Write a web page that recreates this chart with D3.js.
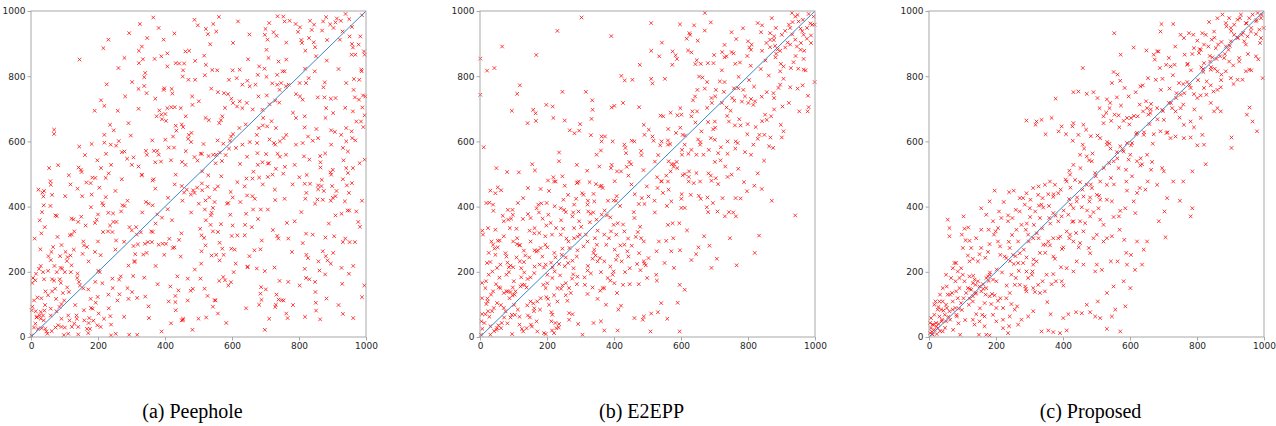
<!DOCTYPE html>
<html>
<head>
<meta charset="utf-8">
<script src="https://cdn.jsdelivr.net/npm/d3@7"></script>
<style>
  body { margin: 0; background: #fff; }
  svg { display: block; }
</style>
</head>
<body>
<div id="chart-container"></div>
<script>
// values (true vs. predicted, 0..1000)

const peephole = [
[365,980],[325,960],[293,932],[231,912],[216,886],[145,851],[279,856],[261,825],[226,775],[209,726],[190,694],[219,709],
[236,651],[247,634],[259,694],[281,738],[302,782],[321,761],[338,770],[345,748],[338,797],[341,810],[322,840],[322,878],
[334,852],[347,917],[331,891],[369,853],[396,912],[407,870],[407,830],[389,861],[432,840],[442,839],[454,818],[457,839],
[461,876],[488,973],[498,956],[522,945],[528,929],[544,960],[553,937],[535,898],[517,863],[522,835],[541,819],[556,818],
[490,847],[470,789],[490,789],[453,799],[481,738],[482,712],[501,723],[521,672],[531,665],[562,656],[567,665],[571,677],
[558,751],[576,748],[591,789],[588,745],[598,731],[603,718],[614,794],[623,820],[631,774],[646,786],[653,769],[679,738],
[704,741],[681,830],[697,823],[677,804],[670,774],[720,778],[709,856],[703,881],[706,912],[698,927],[700,945],[724,935],
[733,924],[711,963],[736,984],[753,983],[757,968],[772,970],[790,960],[803,950],[797,936],[807,911],[809,902],[819,878],
[833,970],[845,958],[830,917],[844,904],[848,889],[851,861],[872,968],[869,940],[881,981],[893,959],[884,911],[903,948],
[909,965],[913,977],[925,970],[930,937],[939,991],[950,975],[951,922],[958,899],[957,866],[968,866],[961,888],[978,897],
[983,922],[994,876],[996,866],[987,815],[980,789],[964,791],[941,779],[967,735],[979,728],[961,692],[989,704],[996,680],
[971,661],[957,631],[959,610],[941,600],[931,580],[946,569],[981,533],[996,544],[961,518],[946,503],[896,590],[907,629],
[902,687],[881,702],[895,731],[909,733],[876,735],[873,766],[856,735],[847,815],[829,794],[821,779],[811,728],[803,738],
[791,745],[769,774],[761,769],[747,779],[742,758],[751,815],[757,815],[739,845],[735,804],[735,774],[729,725],[712,714],
[693,672],[680,641],[692,649],[705,646],[731,641],[762,620],[754,610],[743,600],[729,590],[725,595],[712,606],[707,532],
[691,536],[676,564],[675,595],[674,620],[691,697],[623,723],[615,707],[631,702],[644,718],[603,622],[597,615],[594,602],
[574,593],[564,566],[553,559],[570,540],[544,559],[515,592],[510,562],[530,555],[479,626],[469,608],[471,620],[462,570],
[451,537],[488,552],[497,541],[506,562],[450,652],[432,648],[434,633],[454,644],[462,677],[447,702],[419,705],[429,705],
[407,702],[401,684],[389,682],[391,668],[403,663],[375,677],[383,695],[396,758],[398,763],[420,761],[422,747],[371,731],
[321,700],[291,656],[279,569],[287,547],[301,528],[306,551],[321,523],[331,498],[346,559],[343,571],[367,571],[377,571],
[381,559],[371,536],[388,538],[401,605],[411,581],[424,615],[427,581],[461,528],[511,508],[551,533],[624,531],[664,507],
[710,533],[736,562],[787,528],[815,554],[864,536],[864,520],[901,513],[941,518],[69,636],[69,623],[54,518],[81,527],
[144,584],[181,592],[224,562],[219,620],[219,596],[238,590],[254,587],[271,567],[142,520],[149,513],[151,506],[209,518],
[239,528],[791,672],[817,677],[841,602],[817,643],[791,590],[811,595],[827,615],[857,610],[879,672],[896,634],[926,620],
[941,641],[985,661],[991,741],[986,820],[831,544],[863,555],[894,505],[761,559],[743,553],[731,516],[677,528],[645,553],
[631,590],[612,580],[591,578],[581,558],
[113,496],[183,489],[192,488],[223,488],[271,484],[331,496],[366,484],[432,498],[529,496],[568,493],[616,475],[643,486],
[661,486],[681,489],[707,491],[721,498],[753,501],[801,490],[817,470],[833,470],[857,465],[867,463],[896,498],[899,463],
[931,484],[949,442],[909,432],[901,427],[874,448],[848,409],[855,422],[871,421],[895,418],[937,416],[945,388],[927,378],
[909,373],[889,348],[841,314],[787,355],[764,350],[807,383],[819,424],[757,424],[729,420],[707,391],[686,391],[663,391],
[645,434],[661,432],[668,424],[625,414],[639,344],[659,337],[595,375],[585,409],[589,411],[548,414],[543,396],[519,391],
[539,381],[537,373],[501,409],[521,419],[527,461],[549,453],[511,450],[484,450],[477,437],[496,458],[510,471],[457,443],
[465,452],[450,463],[429,468],[409,427],[371,455],[363,480],[343,414],[351,409],[363,404],[421,358],[377,376],[391,366],
[359,324],[363,322],[349,291],[340,286],[319,284],[306,279],[311,254],[309,233],[316,314],[294,337],[314,337],[301,327],
[273,404],[279,402],[269,385],[245,379],[231,381],[255,353],[246,353],[230,324],[254,296],[243,322],[223,429],[213,411],
[216,404],[204,458],[181,437],[153,432],[139,455],[165,474],[179,398],[200,376],[196,360],[191,350],[163,342],[141,353],
[150,369],[127,361],[121,363],[73,373],[77,371],[58,478],[59,467],[39,448],[34,443],[37,431],[63,436],[38,404],[33,383],
[26,358],[41,337],[129,324],[122,314],[116,312],[156,293],[158,281],[167,276],[154,255],[191,261],[200,293],[215,322],
[236,342],[79,307],[66,276],[61,261],[28,269],[87,248],[103,261],[109,245],[118,250],[121,220],[107,233],[59,236],
[70,218],[88,212],[93,210],[101,199],[119,199],[77,199],[51,203],[24,209],[29,218],[36,199],[15,194],[6,181],[4,166],
[13,174],[39,177],[63,177],[69,173],[86,177],[89,166],[139,194],[138,181],[143,169],[146,158],[156,149],[171,146],
[192,169],[201,203],[205,199],[213,165],[243,179],[231,130],[244,150],[263,176],[268,186],[288,150],[264,131],[291,117],
[317,120],[341,124],[351,94],[305,187],[291,219],[309,230],[237,64],[239,38],[218,56],[198,36],[199,123],[178,117],
[179,89],[184,87],[174,58],[172,43],[159,51],[167,25],[176,25],[171,12],[186,50],[208,31],[193,105],[136,66],[137,56],
[141,31],[129,41],[115,51],[111,66],[122,31],[101,29],[91,31],[91,56],[76,79],[85,92],[91,101],[99,112],[113,138],
[95,135],[75,117],[63,140],[51,128],[43,140],[31,119],[19,121],[9,112],[4,93],[2,82],[14,79],[29,77],[40,81],[59,87],
[59,66],[26,66],[16,60],[36,66],[29,56],[38,51],[13,41],[9,29],[21,25],[32,27],[43,25],[46,17],[49,10],[73,29],[81,36],
[1,5],[111,10],[141,8],[253,10],[239,5],[293,7],[317,7],[390,17],[450,51],[454,56],[523,60],[500,56],[583,43],[579,174],
[589,158],[597,168],[574,184],[605,199],[611,225],[646,214],[674,210],[727,213],[768,169],[687,153],[701,146],[685,133],
[681,99],[688,114],[733,130],[739,115],[748,113],[754,112],[731,99],[729,92],[762,72],[766,58],[711,56],[821,181],
[831,177],[848,169],[849,138],[850,105],[851,81],[863,54],[929,163],[931,71],[949,194],[927,212],[885,235],[880,248],
[871,263],[895,225],[827,242],[861,204],[967,291],[995,158],[905,309],[879,305],[931,291],[811,288],[779,261],[735,310],
[689,296],[685,269],[667,266],[647,216],[563,289],[571,271],[553,252],[539,250],[575,252],[563,235],[509,263],[508,225],
[489,207],[506,179],[468,179],[437,186],[416,155],[431,126],[431,107],[411,109],[440,143],[453,52],[483,148],[477,142],
[527,126],[548,113],[551,112],[543,93],[521,281],[517,304],[505,332],[509,312],[536,344],[543,324],[567,346],[449,318],
[423,273],[428,275],[447,247],[393,286],[403,286],[413,301],[381,283],[361,291],[335,253],[345,258],[599,310],[616,312],
[638,312],[598,271],[596,445],[738,302],[817,209],[821,317],[857,453],[950,388],[943,465],[951,291],[971,385],[977,353],
[557,603],[622,641],[653,598],[702,561],[758,522],[823,497],[878,563],[933,542],[968,603],[992,644],[852,638],[782,688],
[718,662],[641,652],[579,703],[538,762],[602,818],[648,852],[703,798],[762,851],[818,823],[883,848],[918,822],[963,758],
[998,738],[938,703],[877,781],[802,779],[741,719],[662,698],[519,803],[472,878],[428,931],[381,948],[603,902],[652,928],
[561,982],[618,968],[762,903],[838,942],[958,951],[988,987],[922,912],[478,598],[418,542],[362,603],[298,618],[262,601],
[198,542],[161,558],[118,468],[102,432],[58,402],[22,452],[11,302],[31,318],[52,248],[91,282],[128,268],[172,232],
[208,251],[252,268],[278,292],[328,321],[372,348],[408,392],[452,418],[488,442],[532,428],[558,462],[602,428],[638,462],
[692,468],[728,452],[781,468],[822,442],[868,482],[912,448],[958,472],[988,418],[982,338],[938,302],[902,258],[858,232],
[822,252],[768,302],[722,328],[678,362],[642,378],[602,342],[558,322],[522,358],[478,382],[442,298],[398,252],[372,218],
[338,182],[302,138],[258,112],[232,88],[202,72],[158,82],[132,98],[108,152],[72,148],[42,98],[18,62],[62,18],[98,6],
[278,62],[352,58],[418,42],[482,22],[558,72],[642,88],[698,22],[782,98],[818,62],[882,118],[918,98],[962,58],[988,122],
[962,218],[878,192],[802,158],[742,172],[698,202],[652,248],[608,268],[562,172],[518,148],[468,112],[432,82],[378,162],
[332,382],[288,418],[252,448],[178,472],[232,502]
];

const e2epp = [
[303,980],[231,939],[66,891],[1,854],[168,865],[21,817],[43,825],[1,743],[119,772],[111,746],[95,694],[159,697],
[166,686],[142,656],[167,663],[198,712],[217,707],[246,752],[219,672],[253,664],[316,752],[335,726],[336,697],[333,669],
[299,653],[268,634],[282,625],[296,633],[331,619],[363,615],[373,615],[363,600],[401,709],[393,704],[392,923],[422,801],
[432,787],[455,789],[427,718],[475,705],[477,835],[511,963],[511,878],[511,792],[515,778],[535,861],[552,792],[543,903],
[575,876],[584,864],[588,853],[574,835],[597,959],[639,956],[671,994],[671,940],[625,932],[617,915],[650,909],[627,927],
[621,879],[631,873],[647,849],[659,838],[643,837],[680,840],[689,965],[751,935],[785,947],[765,914],[730,896],[723,874],
[736,861],[730,858],[751,874],[757,870],[699,865],[697,840],[776,842],[800,907],[804,888],[811,897],[809,881],[829,963],
[842,956],[839,935],[866,932],[855,902],[866,912],[877,911],[883,948],[871,978],[901,927],[911,939],[881,893],[866,889],
[884,869],[896,878],[911,888],[926,897],[926,948],[933,966],[931,994],[941,983],[951,968],[957,946],[966,927],[976,915],
[988,925],[996,983],[981,991],[999,958],[964,973],[976,948],[941,912],[946,891],[957,881],[966,853],[936,843],[928,825],
[950,823],[966,820],[906,830],[896,815],[906,792],[896,774],[926,766],[963,772],[979,740],[999,782],[981,705],[953,692],
[903,707],[876,748],[878,733],[891,764],[856,751],[841,737],[821,723],[816,712],[801,718],[809,730],[791,738],[786,758],
[771,763],[753,733],[759,725],[736,704],[748,694],[730,782],[716,784],[704,758],[702,738],[691,733],[671,762],[664,796],
[654,799],[649,758],[636,726],[634,692],[631,677],[601,682],[589,680],[569,688],[539,679],[547,677],[585,626],[605,620],
[611,590],[603,574],[603,559],[561,590],[542,600],[538,588],[515,615],[504,636],[491,620],[489,651],[481,571],[461,600],
[453,602],[434,580],[431,590],[436,564],[451,530],[446,537],[443,495],[409,508],[421,508],[393,528],[391,518],[396,600],
[361,572],[348,559],[356,523],[320,510],[291,474],[289,528],[246,493],[226,477],[219,490],[203,480],[236,539],[236,566],
[156,530],[164,511],[116,505],[81,506],[49,518],[53,459],[31,449],[46,441],[63,450],[39,406],[40,387],[28,412],[19,411],
[11,582],[7,326],[9,314],[24,334],[46,329],[34,293],[53,295],[59,296],[43,271],[53,275],[71,309],[68,372],[84,360],
[93,363],[98,375],[109,332],[111,303],[111,285],[128,362],[143,377],[151,365],[169,395],[174,406],[176,382],[183,410],
[181,454],[199,411],[206,448],[221,477],[253,464],[241,395],[251,390],[281,406],[289,472],[295,477],[305,441],[309,436],
[327,475],[346,469],[363,464],[366,457],[339,439],[323,385],[330,378],[348,360],[363,375],[379,373],[389,367],[399,419],
[406,418],[411,349],[427,345],[431,324],[459,383],[461,365],[474,408],[491,408],[483,426],[503,431],[530,457],[521,418],
[546,442],[563,452],[571,416],[601,396],[611,396],[601,424],[629,436],[653,433],[679,428],[695,411],[724,426],[743,383],
[756,382],[731,370],[764,370],[709,385],[681,383],[677,398],[659,424],[624,508],[646,503],[611,500],[589,518],[569,508],
[556,495],[587,537],[579,530],[529,490],[541,477],[561,477],[572,530],[563,539],[605,496],[623,491],[623,477],[657,477],
[691,479],[711,469],[689,495],[704,487],[732,523],[751,498],[739,491],[771,516],[788,475],[829,502],[819,464],[841,454],
[871,418],[797,447],[778,425],[763,426],[701,537],[711,564],[683,574],[667,559],[646,559],[657,590],[689,610],[701,605],
[719,582],[739,562],[763,600],[769,595],[791,567],[809,559],[816,590],[829,608],[834,620],[849,620],[867,612],[863,585],
[848,541],[875,580],[901,612],[906,631],[898,651],[869,677],[856,666],[851,682],[823,644],[799,653],[778,649],[774,668],
[761,649],[743,661],[739,600],[701,661],[696,637],[681,659],[661,631],[651,606],[631,574],[978,692],[941,373],[820,258],
[833,311],[766,220],[746,303],[707,240],[691,212],[685,280],[669,309],[652,275],[645,254],[631,236],[597,266],[618,327],
[577,303],[595,349],[575,349],[561,344],[556,295],[534,293],[527,263],[503,242],[491,225],[495,220],[475,257],[489,293],
[481,303],[471,322],[465,307],[453,280],[431,283],[419,281],[407,314],[399,344],[391,324],[385,303],[377,283],[371,314],
[351,326],[343,303],[349,283],[341,268],[345,250],[339,258],[336,240],[321,293],[316,314],[309,278],[298,314],[281,303],
[281,334],[289,247],[276,234],[279,211],[256,244],[246,271],[244,252],[225,244],[217,213],[201,275],[195,283],[181,273],
[186,247],[173,265],[191,213],[216,181],[201,165],[196,150],[189,160],[181,119],[203,117],[206,99],[213,76],[213,48],
[225,43],[236,40],[228,27],[215,20],[235,29],[171,109],[159,103],[151,109],[141,97],[143,66],[149,60],[169,48],[155,32],
[171,17],[139,27],[125,25],[129,17],[118,38],[104,68],[113,84],[91,60],[95,68],[76,79],[72,60],[65,43],[55,36],[63,27],
[51,27],[31,33],[13,43],[7,25],[3,7],[31,7],[49,22],[96,9],[191,12],[196,9],[221,12],[16,70],[6,70],[24,79],[36,79],
[41,89],[71,89],[51,104],[23,109],[19,101],[6,119],[6,166],[16,150],[33,130],[39,140],[56,152],[61,150],[71,135],[79,140],
[84,140],[91,138],[106,140],[103,130],[88,119],[97,128],[121,155],[126,160],[133,160],[139,152],[123,183],[101,171],
[86,199],[79,191],[86,214],[91,219],[99,214],[119,232],[123,211],[147,244],[135,250],[151,183],[162,196],[163,216],
[131,230],[109,244],[31,230],[21,227],[61,222],[26,191],[37,201],[18,171],[51,212],[4,48],[246,158],[266,150],[256,128],
[271,135],[261,111],[266,73],[276,70],[266,53],[293,40],[306,7],[339,43],[321,132],[336,152],[359,142],[366,150],
[381,181],[389,173],[396,191],[401,165],[409,135],[421,96],[413,84],[411,20],[371,20],[361,48],[376,99],[351,117],
[371,150],[399,201],[427,160],[447,162],[474,162],[479,205],[489,232],[461,58],[486,53],[489,63],[511,72],[531,76],
[559,56],[509,17],[596,17],[590,105],[596,160],[611,145],[541,104],[526,191],[528,173],[551,227],[571,263],[579,212],
[499,181],[469,224],[447,211],[433,199],[423,232],[440,263],[443,247],[411,250],[406,237],[389,216],[371,232],[361,199],
[351,232],[331,195],[321,204],[312,183],[291,185],[313,160],[289,162],[275,179],[256,165],[239,189],[223,201],[236,224],
[263,227],[253,217],[267,273],[291,266],[264,293],[241,314],[215,314],[195,309],[177,319],[163,334],[148,326],[211,350],
[227,334],[204,375],[187,363],[223,401],[256,383],[276,370],[296,355],[321,406],[341,416],[294,385],[249,421],[263,436],
[287,424],[129,426],[143,457],[113,411],[97,390],[83,390],[71,355],[89,334],[99,293],[119,281],[131,265],[151,293],
[163,266],[196,222],[201,191],[221,128],[231,150],[231,109],[216,68],[179,84],[161,79],[46,252],[76,257],[79,247],[39,283],
[522,538],[561,603],[598,642],[643,658],[678,703],[722,718],[758,763],[803,788],[838,822],[882,858],[918,903],[962,938],
[986,962],[968,878],[942,862],[898,838],[862,802],[818,768],[782,722],[738,678],[702,642],[658,598],[622,562],[578,522],
[542,478],[498,462],[462,438],[418,402],[382,418],[338,382],[302,338],[258,302],[222,258],[178,222],[142,178],[98,152],
[62,98],[28,62],[22,118],[48,162],[82,228],[118,282],[162,318],[198,342],[242,358],[278,382],[322,418],[358,462],
[402,478],[438,522],[482,558],[518,602],[562,638],[598,702],[642,738],[678,782],[722,818],[762,838],[798,862],[842,878],
[878,922],[922,958],[948,988],[988,902],[972,818],[948,762],[922,718],[878,698],[842,662],[798,622],[762,578],[718,542],
[682,502],[638,472],[602,438],[558,402],[522,382],[478,338],[442,302],[402,268],[358,242],[322,218],[278,192],[242,148],
[198,122],[162,88],[118,62],[82,42],[42,18],[132,198],[168,262],[212,228],[248,332],[292,308],[328,352],[372,388],
[408,432],[452,468],[488,512],[532,558],[568,592],[612,618],[648,692],[692,718],[728,752],[772,798],[808,832],[852,848],
[888,882],[932,928],[958,902],[992,958],[152,38],[102,98],[58,182],[26,258]
];

const proposed = [
[981,994],[991,978],[976,968],[966,989],[956,978],[946,963],[931,989],[921,973],[911,958],[901,948],[896,978],[886,963],
[876,989],[861,978],[851,937],[836,966],[826,927],[816,932],[801,909],[789,927],[776,932],[761,917],[751,927],[729,960],
[694,960],[691,937],[681,876],[671,866],[674,851],[685,876],[649,879],[611,888],[572,866],[553,932],[551,813],[563,805],
[546,779],[571,786],[584,764],[596,738],[617,751],[631,769],[638,772],[654,794],[677,789],[697,792],[716,856],[689,825],
[708,835],[721,830],[733,835],[735,891],[763,866],[771,835],[786,868],[791,886],[806,871],[811,881],[821,897],[834,891],
[844,912],[856,886],[863,897],[873,905],[886,891],[894,881],[901,907],[911,927],[921,917],[933,927],[941,907],[951,922],
[961,937],[976,929],[986,943],[991,917],[999,948],[976,861],[946,897],[926,856],[926,845],[896,845],[881,856],[869,861],
[846,858],[839,845],[821,840],[813,827],[819,813],[841,820],[853,823],[861,815],[873,805],[886,815],[901,794],[909,776],
[921,789],[936,789],[946,815],[956,820],[996,794],[957,704],[966,661],[979,631],[949,682],[903,612],[903,580],[871,692],
[851,692],[861,702],[841,718],[849,753],[861,758],[871,766],[841,772],[829,784],[821,764],[811,741],[801,733],[791,745],
[781,764],[771,782],[759,776],[746,779],[739,748],[751,743],[759,713],[751,702],[736,692],[726,702],[716,718],[696,697],
[681,702],[663,715],[651,702],[639,692],[655,682],[661,687],[629,713],[623,677],[603,672],[591,672],[581,663],[566,680],
[554,682],[539,702],[529,688],[521,677],[509,702],[503,733],[531,729],[541,718],[561,735],[573,710],[521,656],[544,663],
[491,751],[471,746],[446,753],[431,751],[459,825],[378,731],[366,672],[336,666],[321,661],[291,664],[318,651],[348,622],
[387,631],[428,646],[431,656],[461,651],[469,636],[446,620],[429,602],[409,622],[396,646],[459,590],[483,616],[503,618],
[511,610],[531,590],[539,593],[571,585],[591,595],[606,595],[621,626],[641,620],[671,622],[691,631],[709,626],[701,666],
[721,610],[736,615],[761,610],[781,612],[801,588],[821,590],[816,620],[791,643],[781,661],[761,651],[811,672],[826,530],
[786,508],[759,477],[729,477],[701,508],[696,518],[681,467],[653,477],[646,452],[629,457],[621,442],[591,449],[589,477],
[606,493],[631,526],[651,559],[666,537],[663,513],[636,530],[621,539],[596,544],[601,559],[581,569],[561,567],[551,539],
[566,518],[543,488],[531,467],[511,477],[496,503],[486,539],[471,554],[463,578],[451,559],[431,528],[419,510],[411,477],
[421,498],[436,482],[451,475],[471,467],[486,457],[501,436],[481,428],[461,431],[441,416],[423,406],[431,395],[456,398],
[479,416],[511,421],[531,421],[546,416],[506,395],[491,383],[481,370],[511,360],[521,344],[551,368],[571,387],[611,416],
[616,380],[586,395],[567,370],[569,329],[546,309],[531,303],[521,293],[501,314],[491,303],[481,257],[477,273],[447,275],
[431,293],[419,303],[411,324],[401,275],[397,270],[421,314],[439,319],[451,288],[461,324],[466,349],[451,355],[431,355],
[416,375],[396,370],[386,355],[371,380],[359,365],[341,397],[336,406],[317,385],[301,395],[286,406],[281,426],[291,441],
[311,457],[327,462],[346,467],[361,477],[376,467],[386,441],[393,452],[356,438],[371,430],[339,426],[326,436],[303,421],
[271,426],[253,449],[239,444],[223,414],[209,385],[196,449],[181,416],[156,395],[171,375],[191,355],[199,324],[206,334],
[194,314],[216,365],[236,373],[236,355],[249,365],[259,390],[271,385],[276,344],[261,329],[289,329],[296,314],[313,344],
[331,365],[311,303],[327,303],[341,283],[356,293],[371,303],[386,303],[371,247],[376,240],[361,281],[347,258],[331,258],
[321,232],[311,222],[309,201],[307,191],[296,181],[287,155],[289,147],[271,160],[259,181],[256,160],[246,191],[253,224],
[266,227],[281,227],[291,201],[291,244],[271,257],[266,293],[251,252],[241,273],[231,242],[226,247],[213,252],[206,293],
[181,285],[176,261],[156,273],[151,254],[146,232],[131,240],[121,232],[116,250],[101,273],[109,297],[121,295],[126,273],
[141,303],[156,329],[178,329],[98,314],[106,332],[117,336],[103,370],[61,334],[56,360],[61,309],[76,227],[81,227],
[71,211],[86,201],[96,211],[101,191],[91,181],[79,171],[66,181],[51,191],[53,155],[41,150],[33,130],[19,109],[16,99],
[26,84],[36,84],[43,81],[53,89],[61,79],[71,84],[79,89],[89,87],[83,63],[63,53],[51,48],[39,53],[31,63],[16,68],[6,58],
[3,43],[11,38],[21,43],[29,40],[6,27],[16,22],[26,27],[3,12],[11,7],[41,17],[93,7],[96,104],[103,119],[111,135],[116,150],
[126,145],[131,165],[136,176],[139,160],[146,171],[151,155],[161,162],[171,181],[176,186],[181,191],[191,176],[201,171],
[121,186],[106,171],[91,150],[81,140],[69,135],[56,130],[131,125],[141,135],[156,140],[171,150],[169,130],[181,125],
[196,128],[213,119],[206,111],[186,101],[166,104],[159,68],[166,63],[151,48],[141,70],[131,53],[136,38],[166,33],[149,7],
[171,7],[181,5],[236,12],[263,94],[291,140],[316,138],[353,107],[363,70],[401,58],[336,17],[356,20],[371,15],[391,12],
[411,20],[531,25],[571,17],[586,94],[556,84],[546,63],[511,58],[496,63],[481,76],[456,73],[439,76],[416,70],[471,99],
[504,109],[531,135],[551,155],[581,171],[601,150],[615,206],[589,258],[583,298],[603,252],[621,293],[641,268],[651,293],
[686,355],[706,306],[703,385],[711,426],[749,418],[781,370],[786,395],[636,222],[591,222],[563,232],[543,232],[501,222],
[516,206],[496,201],[461,222],[441,232],[431,201],[411,211],[394,214],[396,171],[401,158],[371,193],[379,171],[351,191],
[339,171],[326,160],[311,150],[331,135],[346,140],[366,162],[241,135],[231,119],[246,101],[221,89],[201,89],[191,68],
[201,48],[221,53],[241,63],[256,84],[276,53],[296,63],[311,79],[266,38],[239,33],[221,27],[31,109],[41,109],[51,99],
[71,109],[86,119],[119,99],[131,109],[63,130],
[22,33],[38,48],[58,62],[33,18],[48,28],[82,68],[98,83],[122,118],[138,133],[162,148],[178,172],[202,207],[218,198],
[242,233],[258,248],[283,268],[298,293],[322,318],[338,333],[362,348],[378,372],[402,388],[418,423],[442,428],[458,452],
[483,468],[498,493],[522,518],[538,533],[562,548],[578,573],[603,588],[618,622],[642,628],[658,653],[682,668],[698,693],
[722,718],[738,733],[762,748],[778,772],[803,788],[818,822],[842,828],[858,853],[883,868],[898,893],[922,918],[938,933],
[962,948],[978,972],[993,988],[132,188],[168,243],[212,278],[248,313],[292,348],[328,403],[372,438],[408,483],[452,518],
[488,563],[532,598],[568,643],[612,678],[648,723],[692,758],[728,803],[772,838],[808,883],[852,918],[888,953],[928,978],
[72,22],[108,52],[152,88],[188,132],[232,158],[268,203],[312,238],[348,283],[392,308],[428,353],[472,388],[508,433],
[552,468],[588,513],[632,548],[668,593],[712,628],[748,673],[792,698],[828,743],[872,788],[908,833],[952,868],[988,902],
[983,852],[962,818],[28,92],[12,38],[9,16],[23,9],[47,68],[88,42],[122,148],[182,198],[238,292],[302,368],[358,402],
[422,458],[478,542],[542,578],[598,652],[662,698],[718,762],[782,818],[838,862],[902,938],[948,962]
];

const panels = [peephole, e2epp, proposed];
const captions = ["(a) Peephole", "(b) E2EPP", "(c) Proposed"];
const ticks = [0, 200, 400, 600, 800, 1000];

// layout
const panelLeft = [31, 480, 929];
const panelTop = 11;
const w = 335;
const h = 326;

const svg = d3.select("#chart-container")
  .append("svg")
  .attr("width", 1276)
  .attr("height", 426);

const x = d3.scaleLinear().domain([0, 1000]).range([0, w]);
const y = d3.scaleLinear().domain([0, 1000]).range([h, 0]);

const marker = d3.symbol(d3.symbolTimes, 10);

panels.forEach((data, i) => {
  const g = svg.append("g")
    .attr("transform", `translate(${panelLeft[i]},${panelTop})`);

  // points
  g.append("g")
    .selectAll("path")
    .data(data)
    .join("path")
    .attr("transform", d => `translate(${x(d[0])},${y(d[1])})`)
    .attr("d", marker)
    .attr("fill", "none")
    .attr("stroke", "#ff0000")
    .attr("stroke-width", 1)
    .attr("opacity", 0.75);

  // y = x reference line
  const line = d3.line()
    .x(d => x(d))
    .y(d => y(d));

  g.append("path")
    .datum([0, 1000])
    .attr("fill", "none")
    .attr("stroke", "#3a87c6")
    .attr("stroke-width", 1)
    .attr("d", line);

  // axes
  g.append("g")
    .attr("transform", `translate(0,${h})`)
    .call(d3.axisBottom(x).tickValues(ticks).tickFormat(d3.format("d")).tickSize(3.5).tickPadding(2))
    .call(a => a.select(".domain").remove())
    .call(a => a.selectAll(".tick line").attr("stroke", "#a8a8a8"))
    .call(a => a.selectAll(".tick text")
      .attr("fill", "#262626")
      .style("font-family", "'DejaVu Sans', sans-serif")
      .style("font-size", "9px"));

  g.append("g")
    .call(d3.axisLeft(y).tickValues(ticks).tickFormat(d3.format("d")).tickSize(3.5).tickPadding(2))
    .call(a => a.select(".domain").remove())
    .call(a => a.selectAll(".tick line").attr("stroke", "#a8a8a8"))
    .call(a => a.selectAll(".tick text")
      .attr("fill", "#262626")
      .style("font-family", "'DejaVu Sans', sans-serif")
      .style("font-size", "9px"));

  // frame
  g.append("rect")
    .attr("width", w)
    .attr("height", h)
    .attr("fill", "none")
    .attr("stroke", "#a8a8a8")
    .attr("stroke-width", 1);

  // caption
  svg.append("text")
    .attr("x", panelLeft[i] + w / 2 - 6)
    .attr("y", 418)
    .attr("text-anchor", "middle")
    .style("font-family", "'Liberation Serif', 'DejaVu Serif', serif")
    .style("font-size", "20px")
    .attr("fill", "#000")
    .text(captions[i]);
});
</script>
</body>
</html>
